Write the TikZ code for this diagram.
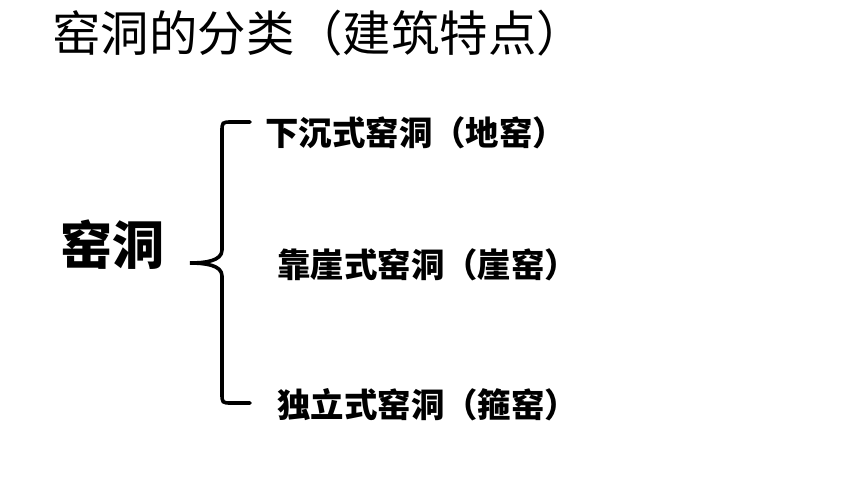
\documentclass[tikz,border=0pt]{standalone}
\usepackage{fontspec}
\newfontfamily\cjk{Noto Sans CJK SC}
\usetikzlibrary{positioning}

\begin{document}
\begin{tikzpicture}[x=0.5pt, y=-0.5pt, font=\cjk,
	every node/.style={inner sep=0pt, anchor=west},
	item/.style={font=\cjk\bfseries\fontsize{16.7pt}{16.7pt}\selectfont}]
	\useasboundingbox (0,0) rectangle (860,484);
	\def\bx{222}
	\def\tipx{190}

	\node (title) at (52,33) {\fontsize{24.2pt}{24.2pt}\selectfont 窑洞的分类（建筑特点）};
	\node (main) at (60,245) {\bfseries\fontsize{26pt}{26pt}\selectfont 窑洞};

	\coordinate (top) at (250,122);
	\coordinate (tip) at (\tipx,263);
	\coordinate (bot) at (250,403);

	\draw[line width=1.8pt, line cap=round]
		(top) -- (232,122) .. controls (\bx,122) .. (\bx,132)
		-- (\bx,250) .. controls (\bx,261) and (205,263) .. (tip)
		.. controls (205,263) and (\bx,265) .. (\bx,276)
		-- (\bx,393) .. controls (\bx,403) .. (232,403) -- (bot);

	\node[item] (a) at (265,133) {下沉式窑洞（地窑）};
	\node[item] (b) at (277,265) {靠崖式窑洞（崖窑）};
	\node[item] (c) at (277,405) {独立式窑洞（箍窑）};
\end{tikzpicture}
\end{document}
